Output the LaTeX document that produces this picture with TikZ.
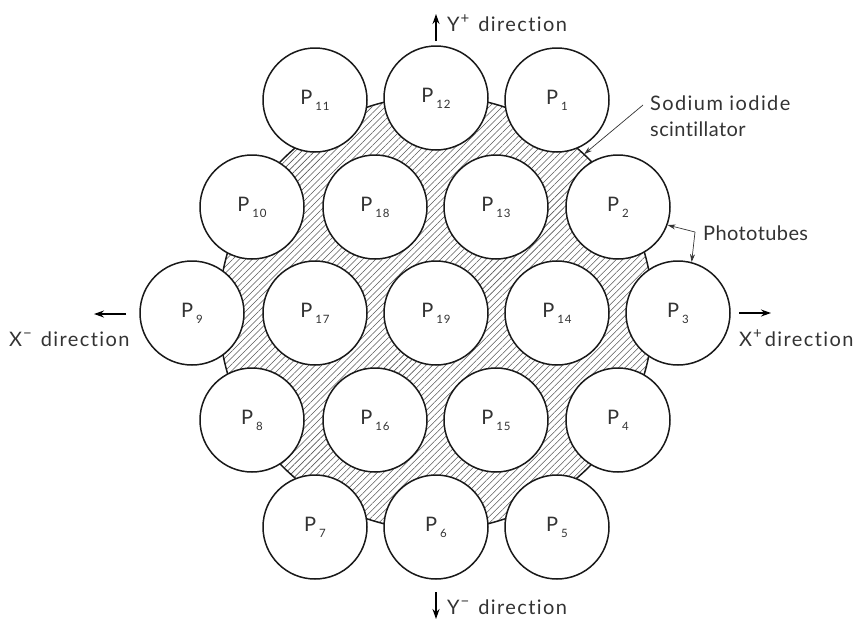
\documentclass[tikz,border=0pt]{standalone}
\usepackage{fontspec}
\setmainfont{Lato}[Ligatures=NoCommon]
\usetikzlibrary{patterns.meta,arrows.meta}
\newcommand{\psub}[1]{P\kern3pt\raisebox{-6pt}{\fontsize{11.5}{11.5}\selectfont\addfontfeatures{LetterSpace=6}#1}}
\newcommand{\supr}[1]{\raisebox{8pt}{\fontsize{15}{15}\selectfont #1}}
\tikzset{
  tube/.style={circle,draw=black!90,line width=1.5pt,fill=white,minimum size=104pt,inner sep=0pt,text=black!80,font=\fontsize{20}{20}\selectfont},
  crystal/.style={circle,draw=black!90,line width=1.5pt,minimum size=434pt,inner sep=0pt,
    pattern={Lines[angle=45,distance=4.6pt,line width=0.55pt]},pattern color=black!65},
  lab/.style={inner sep=0pt,anchor=base west,text=black!80,font=\fontsize{20}{20}\selectfont\addfontfeatures{LetterSpace=7}},
  tight lab/.style={lab,font=\fontsize{20}{20}\selectfont\addfontfeatures{LetterSpace=2}},
  thin arrow/.style={draw=black!80,line width=0.7pt,-{Stealth[length=8pt,width=5pt]}},
  dir arrow/.style={draw=black,line width=1.5pt,-{Stealth[length=10pt,width=7pt]}}
}
\begin{document}
\begin{tikzpicture}[x=1pt,y=-1pt]
\useasboundingbox (0,0) rectangle (854,622);
\node[crystal] (disk) at (436,313) {};
\foreach \n/\x/\y in {1/557/100,2/618/207,3/678/313,4/618/420,5/557/527,6/436/527,7/315/527,8/252/420,9/192/313,10/252/207,11/315/100,12/436/98,13/496/207,14/557/313,15/496/420,16/375/420,17/315/313,18/375/207,19/436/313}
  \node[tube] (P\n) at (\x,\y) {\psub{\n}};
\node[lab] (sod) at (650,110) {Sodium iodide};
\node[tight lab] (sci) at (650,136) {scintillator};
\node[tight lab] (pho) at (703,240) {Phototubes};
\coordinate (sodtail) at (643,105);
\coordinate (elbow) at (695,232);
\draw[thin arrow] (sodtail) -- (disk.47);
\draw[thin arrow] (elbow) -- (P2.-20);
\draw[thin arrow] (elbow) -- (P3.75);
\node[lab] (yp) at (447,31) {Y\kern1pt\supr{+}\hspace{9pt}direction};
\node[lab] (ym) at (447,614) {Y\kern1pt\supr{−}\hspace{9pt}direction};
\node[lab] (xp) at (739,346) {X\kern1pt\supr{+}\hspace{3pt}direction};
\node[lab] (xm) at (9,346) {X\kern1pt\supr{−}\hspace{9pt}direction};
\coordinate (ypa) at (436,41); \coordinate (ypb) at (436,14);
\coordinate (yma) at (436,592); \coordinate (ymb) at (436,619);
\coordinate (xpa) at (739,313); \coordinate (xpb) at (771,313);
\coordinate (xma) at (126,314); \coordinate (xmb) at (94,314);
\draw[dir arrow] (ypa) -- (ypb);
\draw[dir arrow] (yma) -- (ymb);
\draw[dir arrow] (xpa) -- (xpb);
\draw[dir arrow] (xma) -- (xmb);
\end{tikzpicture}
\end{document}
